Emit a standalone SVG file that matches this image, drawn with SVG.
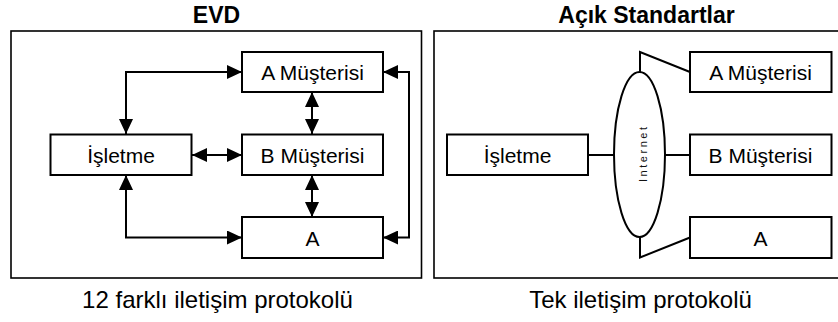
<svg xmlns="http://www.w3.org/2000/svg" width="838" height="322" viewBox="0 0 838 322">
  <style>
    .frame { fill: none; stroke: #000; stroke-width: 1.6; }
    .box rect { fill: #fff; stroke: #000; stroke-width: 2; }
    .label { font-family: "Liberation Sans", Arial, sans-serif; font-size: 21px; fill: #000; text-anchor: middle; }
    .title { font-family: "Liberation Sans", Arial, sans-serif; font-size: 23px; font-weight: bold; fill: #000; text-anchor: middle; }
    .caption { font-family: "Liberation Sans", Arial, sans-serif; font-size: 24px; fill: #000; text-anchor: middle; }
    .wire { fill: none; stroke: #000; stroke-width: 2; }
    .arrow { marker-start: url(#head); marker-end: url(#head); }
  </style>
  <defs>
    <marker id="head" markerUnits="userSpaceOnUse" markerWidth="15" markerHeight="14" refX="15" refY="7" orient="auto-start-reverse">
      <path d="M0,0 L15,7 L0,14 Z" fill="#000"/>
    </marker>
  </defs>

  <rect width="838" height="322" fill="#fff"/>

  <!-- titles and captions -->
  <text class="title" x="216.5" y="22.5">EVD</text>
  <text class="title" x="646.5" y="22.5">Açık Standartlar</text>
  <text class="caption" x="217.5" y="308">12 farklı iletişim protokolü</text>
  <text class="caption" x="640.5" y="308">Tek iletişim protokolü</text>

  <!-- panel frames -->
  <rect class="frame" x="11" y="31" width="410.5" height="247"/>
  <rect class="frame" x="434" y="31" width="410" height="247"/>

  <!-- EVD panel: point-to-point links -->
  <g id="evd-connectors">
    <path class="wire arrow" d="M242,72 H126 V134"/>
    <path class="wire arrow" d="M126,175 V237.5 H242"/>
    <path class="wire arrow" d="M383,72 H409 V237.5 H383"/>
    <path class="wire arrow" d="M312,92 V134"/>
    <path class="wire arrow" d="M312,175 V217"/>
    <path class="wire arrow" d="M192,155 H242"/>
  </g>

  <g id="evd-isletme" class="box">
    <rect x="50.5" y="134.5" width="141" height="40.5"/>
    <text class="label" x="121" y="163">İşletme</text>
  </g>
  <g id="evd-a-musterisi" class="box">
    <rect x="242" y="52" width="141" height="40"/>
    <text class="label" x="312.5" y="80">A Müşterisi</text>
  </g>
  <g id="evd-b-musterisi" class="box">
    <rect x="242" y="134.5" width="141" height="40.5"/>
    <text class="label" x="312.5" y="163">B Müşterisi</text>
  </g>
  <g id="evd-a" class="box">
    <rect x="242" y="217" width="141" height="41"/>
    <text class="label" x="312.5" y="245.5">A</text>
  </g>

  <!-- open standards panel: everything through the internet -->
  <g id="open-connectors">
    <path class="wire" d="M588,155 H614"/>
    <path class="wire" d="M665,155 H690"/>
    <path class="wire" d="M640,72 V52 L690,72"/>
    <path class="wire" d="M640,237 V257.5 L690,237.5"/>
  </g>

  <g id="internet">
    <ellipse cx="639.5" cy="154.5" rx="25.5" ry="82.5" fill="#fff" stroke="#000" stroke-width="2"/>
    <text transform="translate(646.5,154.5) rotate(-90)" font-family="'Liberation Sans', Arial, sans-serif" font-size="11" text-anchor="middle" textLength="55" lengthAdjust="spacing" fill="#111">Internet</text>
  </g>

  <g id="open-isletme" class="box">
    <rect x="447" y="134.5" width="141" height="40.5"/>
    <text class="label" x="517.5" y="163">İşletme</text>
  </g>
  <g id="open-a-musterisi" class="box">
    <rect x="690" y="52" width="141.5" height="40"/>
    <text class="label" x="760.5" y="80">A Müşterisi</text>
  </g>
  <g id="open-b-musterisi" class="box">
    <rect x="690" y="134.5" width="141.5" height="40.5"/>
    <text class="label" x="760.5" y="163">B Müşterisi</text>
  </g>
  <g id="open-a" class="box">
    <rect x="690" y="217" width="141.5" height="41"/>
    <text class="label" x="760.5" y="245.5">A</text>
  </g>
</svg>
